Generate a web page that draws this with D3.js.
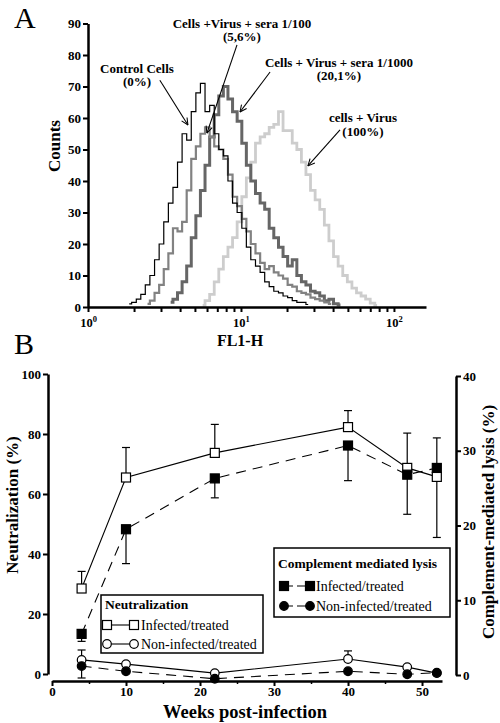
<!DOCTYPE html>
<html><head><meta charset="utf-8">
<script src="https://cdn.jsdelivr.net/npm/d3@7"></script>
<style>
body{margin:0;background:#fff}
svg{display:block}
text{font-family:"Liberation Serif","Times New Roman",serif;fill:#000}
</style>
</head><body>
<svg id="c" width="500" height="723"></svg>
<script>
// ---------- Panel A data (flow cytometry histogram) ----------
const fl1Channels = [1.74,1.86,2.00,2.14,2.29,2.45,2.63,2.82,3.02,3.24,3.47,3.72,3.98,4.27,4.57,4.90,5.25,5.62,6.03,6.46,6.92,7.41,7.94,8.51,9.12,9.77,10.5,11.2,12.0,12.9,13.8,14.8,15.8,17.0,18.2,19.5,20.9,22.4,24.0,25.7,27.5,29.5,31.6,33.9,36.3,38.9,41.7,44.7,47.9,51.3,55.0,58.9,63.1,67.6,72.4,77.6,83.2];
const countsControl = [null,1,1.5,2.5,4,7,10,15,20,27,33,38,46,55,53,62,68,71,62,64,55,50,48,40,33,30,25,19,15,13,11,8,6.5,5,4.5,3.5,3,2,1.5,1.5,0.8,null,null,null,null,null,null,null,null,null,null,null,null,null,null,null,null];
const countsSera100 = [null,null,null,null,null,1,2,4.5,7,12,17,25,24,27,37,47,51,55,57,54,51,50,47,42,35,32,28,24,20,17,14,12,13,11,10,9,7,6.5,5,4.5,4,3,2.5,2,1.5,1,null,null,null,null,null,null,null,null,null,null,null];
const countsSera1000 = [null,null,null,null,null,null,null,null,null,null,1.5,2.5,4.5,8,13,22,29,37,45,54,61,67,70,66,62,59,52,45,40,36,33,31,25,22,19,16,13,15,10,8,7,5,4.5,3.5,2,2.5,1,0.6,null,null,null,null,null,null,null,null,null];
const countsVirus = [null,null,null,null,null,null,null,null,null,null,null,null,null,null,null,null,null,0.5,2,4,8,12,16,19,22,27,35,41,46,52,54,55,57,58,62,56,56,52,50,46,42,37,34,31,26,21,16,13,10,8,6,4.5,3.5,2.5,1.2,0.5,null];
const histYTicks = [0,10,20,30,40,50,60,70,80,90];
const histXMajor = [1,10,100];
const histXMinor = [2,3,4,5,6,7,8,9,20,30,40,50,60,70,80,90];
// annotations: text lines, label anchor (fl1,count), arrow tail and tip (fl1,count)
const annotLabels = [
  {lines:["Control Cells","(0%)"], at:[2.09,74.3], tail:[2.95,72], tip:[4.5,57.8]},
  {lines:["Cells +Virus + sera 1/100","(5,6%)"], at:[10.15,88.6], tail:[9.42,83.2], tip:[5.99,55.2]},
  {lines:["Cells + Virus + sera 1/1000","(20,1%)"], at:[43.7,76.2], tail:[15.5,74.6], tip:[9.85,61.9]},
  {lines:["cells + Virus","(100%)"], at:[62.7,58.7], tail:[44.4,56.2], tip:[27.4,44.8]}
];

// ---------- Panel B data ----------
const weeks = [4,10,22,40,48,52];
const neutInfected = [28.5,65.5,73.7,82.3,68.7,65.7];
const neutInfectedErr = [5.7,10,9.5,5.5,11.6,13];
const neutNonInfected = [4.7,3.3,0.3,5.0,2.3,0.3];
const neutNonInfectedErr = [3.3,0,0,2.7,0,0];
const lysisInfected = [5.5,19.5,26.3,30.7,26.8,27.7];
const lysisInfectedErr = [1.0,4.6,2.6,4.7,5.3,9.3];
const lysisNonInfected = [1.2,0.5,-0.5,0.5,0.1,0.3];
const lysisNonInfectedErr = [1.6,0,0,0,0,0];
const weekTicks = [0,10,20,30,40,50];
const weekMinorTicks = [5,15,25,35,45];
const neutTicks = [0,20,40,60,80,100];
const lysisTicks = [0,10,20,30,40];

const svg = d3.select("#c");
const defs = svg.append("defs");
defs.append("marker").attr("id","arr").attr("viewBox","0 0 10 10")
  .attr("refX",9.5).attr("refY",5).attr("markerWidth",8).attr("markerHeight",8)
  .attr("orient","auto").attr("markerUnits","userSpaceOnUse")
  .append("path").attr("d","M1,1 L9.5,5 L1,9").attr("fill","none").attr("stroke","#000").attr("stroke-width",1.3);

function styleAxis(g, w){
  g.select(".domain").attr("stroke","#000").attr("stroke-width",w||2.5);
  g.selectAll(".tick line").attr("stroke","#000").attr("stroke-width",2);
  g.selectAll(".tick text").attr("font-family","'Liberation Serif',serif").attr("font-weight","bold").attr("font-size",13).attr("fill","#000");
}

// ================= Panel A =================
svg.append("text").attr("x",14).attr("y",28).attr("font-size",30).text("A");

const xA = d3.scaleLog().domain([1,162]).range([88,426]);
const yA = d3.scaleLinear().domain([0,90]).range([307,23.5]);

const histSeries = [
  {counts:countsVirus, color:"#cdcdcd", w:2.8},
  {counts:countsSera1000, color:"#666666", w:3},
  {counts:countsSera100, color:"#828282", w:2.2},
  {counts:countsControl, color:"#000", w:1.2}
];
const histLine = d3.line().defined(d=>d[1]!=null).x(d=>xA(d[0])).y(d=>yA(d[1])).curve(d3.curveStep);
histSeries.forEach(s=>{
  const pts = fl1Channels.map((c,i)=>[c,s.counts[i]]);
  svg.append("path").datum(pts).attr("d",histLine).attr("fill","none")
    .attr("stroke",s.color).attr("stroke-width",s.w).attr("stroke-linejoin","miter");
});

const gyA = svg.append("g").attr("transform","translate(88,0)")
  .call(d3.axisLeft(yA).tickValues(histYTicks).tickSize(5).tickSizeOuter(0).tickPadding(2));
styleAxis(gyA);
const gxA = svg.append("g").attr("transform","translate(0,307)")
  .call(d3.axisBottom(xA).tickValues(histXMajor.concat(histXMinor)).tickSize(5).tickSizeOuter(0).tickFormat(""));
styleAxis(gxA);
gxA.selectAll(".tick").filter(d=>histXMajor.includes(d)).each(function(d){
  const t = d3.select(this).append("text").attr("y",20).attr("text-anchor","middle")
    .attr("font-weight","bold").attr("font-size",12.5).attr("fill","#000");
  t.append("tspan").text("10");
  t.append("tspan").attr("dy",-5).attr("font-size",8.5).text(String(Math.round(Math.log10(d))));
});
svg.append("text").attr("x",240).attr("y",346).attr("text-anchor","middle")
  .attr("font-weight","bold").attr("font-size",16).text("FL1-H");
svg.append("text").attr("transform","translate(60,146) rotate(-90)").attr("text-anchor","middle")
  .attr("font-weight","bold").attr("font-size",17).text("Counts");

annotLabels.forEach(a=>{
  a.lines.forEach((ln,i)=>{
    svg.append("text").attr("x",xA(a.at[0])).attr("y",yA(a.at[1])+i*13.5)
      .attr("text-anchor","middle").attr("font-weight","bold").attr("font-size",13).text(ln);
  });
  svg.append("line").attr("x1",xA(a.tail[0])).attr("y1",yA(a.tail[1]))
    .attr("x2",xA(a.tip[0])).attr("y2",yA(a.tip[1]))
    .attr("stroke","#000").attr("stroke-width",1.1).attr("marker-end","url(#arr)");
});

// ================= Panel B =================
svg.append("text").attr("x",14).attr("y",354).attr("font-size",30).text("B");

const xB = d3.scaleLinear().domain([0,52.7]).range([52,442]);
const yL = d3.scaleLinear().domain([0,100]).range([674,374]);
const yR = d3.scaleLinear().domain([0,40]).range([675,376]);

const gyL = svg.append("g").attr("transform","translate(48,0)")
  .call(d3.axisLeft(yL).tickValues(neutTicks).tickSize(5).tickSizeOuter(0).tickPadding(2));
styleAxis(gyL);
const gyR = svg.append("g").attr("transform","translate(456,0)")
  .call(d3.axisRight(yR).tickValues(lysisTicks).tickSize(5).tickSizeOuter(0).tickPadding(2));
styleAxis(gyR);
const gxB = svg.append("g").attr("transform","translate(0,681)")
  .call(d3.axisBottom(xB).tickValues(weekTicks).tickSize(5).tickSizeOuter(0).tickPadding(1));
styleAxis(gxB);
const gxBm = svg.append("g").attr("transform","translate(0,681)")
  .call(d3.axisBottom(xB).tickValues(weekMinorTicks).tickSize(3).tickSizeOuter(0).tickFormat(""));
gxBm.select(".domain").remove();
gxBm.selectAll(".tick line").attr("stroke","#000").attr("stroke-width",1.5);

svg.append("text").attr("x",245).attr("y",718).attr("text-anchor","middle")
  .attr("font-weight","bold").attr("font-size",18.5).text("Weeks post-infection");
svg.append("text").attr("transform","translate(18,505) rotate(-90)").attr("text-anchor","middle")
  .attr("font-weight","bold").attr("font-size",17).text("Neutralization (%)");
svg.append("text").attr("transform","translate(494,522) rotate(-90)").attr("text-anchor","middle")
  .attr("font-weight","bold").attr("font-size",17).text("Complement-mediated lysis (%)");

const seriesB = [
  {vals:neutInfected, err:neutInfectedErr, dir:1, y:yL, dash:null, shape:"square", fill:"#fff"},
  {vals:lysisInfected, err:lysisInfectedErr, dir:-1, y:yR, dash:"10,7", shape:"square", fill:"#000"},
  {vals:neutNonInfected, err:neutNonInfectedErr, dir:1, y:yL, dash:null, shape:"circle", fill:"#fff"},
  {vals:lysisNonInfected, err:lysisNonInfectedErr, dir:-1, y:yR, dash:"10,7", shape:"circle", fill:"#000"}
];
// error bars
seriesB.forEach(s=>{
  weeks.forEach((w,i)=>{
    if(!s.err[i]) return;
    const x = xB(w), y1 = s.y(s.vals[i]), y2 = s.y(s.vals[i]+s.dir*s.err[i]);
    svg.append("line").attr("x1",x).attr("x2",x).attr("y1",y1).attr("y2",y2).attr("stroke","#000").attr("stroke-width",1.2);
    svg.append("line").attr("x1",x-4).attr("x2",x+4).attr("y1",y2).attr("y2",y2).attr("stroke","#000").attr("stroke-width",1.2);
  });
});
// lines
seriesB.forEach(s=>{
  const ln = d3.line().x((d,i)=>xB(weeks[i])).y(d=>s.y(d));
  svg.append("path").datum(s.vals).attr("d",ln).attr("fill","none").attr("stroke","#000")
    .attr("stroke-width",1.1).attr("stroke-dasharray",s.dash);
});
function marker(g, shape, fill, x, y){
  if(shape==="square"){
    g.append("rect").attr("x",x-4.5).attr("y",y-4.5).attr("width",9).attr("height",9)
      .attr("fill",fill).attr("stroke","#000").attr("stroke-width",1.2);
  } else {
    g.append("circle").attr("cx",x).attr("cy",y).attr("r",4.3)
      .attr("fill",fill).attr("stroke","#000").attr("stroke-width",1.2);
  }
}
seriesB.forEach(s=>{
  weeks.forEach((w,i)=>marker(svg,s.shape,s.fill,xB(w),s.y(s.vals[i])));
});

// legends
function legend(x,y,w,h,title,items,titleY,rowYs,symX1,symX2,textX){
  svg.append("rect").attr("x",x).attr("y",y).attr("width",w).attr("height",h)
    .attr("fill","#fff").attr("stroke","#000").attr("stroke-width",1.5);
  svg.append("text").attr("x",x+4).attr("y",titleY).attr("font-weight","bold").attr("font-size",13.5).text(title);
  items.forEach((it,i)=>{
    const ry = rowYs[i];
    svg.append("line").attr("x1",symX1).attr("x2",symX2).attr("y1",ry).attr("y2",ry)
      .attr("stroke","#000").attr("stroke-width",1.1).attr("stroke-dasharray",it.dash);
    marker(svg,it.shape,it.fill,symX1,ry);
    marker(svg,it.shape,it.fill,symX2,ry);
    svg.append("text").attr("x",textX).attr("y",ry+5).attr("font-size",14).text(it.label);
  });
}
legend(101,595,162,58,"Neutralization",
  [{label:"Infected/treated",shape:"square",fill:"#fff",dash:null},
   {label:"Non-infected/treated",shape:"circle",fill:"#fff",dash:null}],
  609,[625,644],107,134,141);
legend(274,548,176,69,"Complement mediated lysis",
  [{label:"Infected/treated",shape:"square",fill:"#000",dash:"9,4"},
   {label:"Non-infected/treated",shape:"circle",fill:"#000",dash:"9,4"}],
  568,[586,606],284,310,316);
</script>
</body></html>
